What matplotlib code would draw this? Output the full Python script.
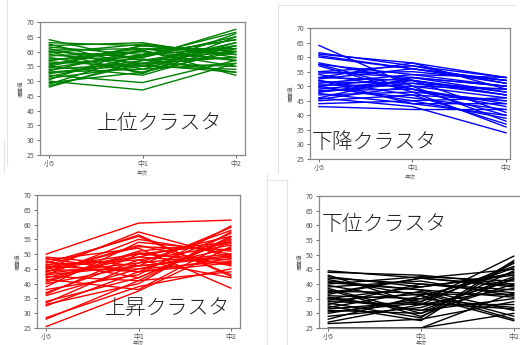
import matplotlib
matplotlib.use("Agg")
import matplotlib.pyplot as plt
from matplotlib.lines import Line2D

plt.rcParams['font.family'] = ['Noto Sans CJK JP', 'DejaVu Sans']

years = ["小5", "中1", "中2"]
ylabel = "偏差値"
xlabel = "年次"

# Upper cluster (green)
upper_s5 = [64, 63, 62.5, 62, 61.5, 61, 60.5, 60, 59.5, 59, 58.5, 58, 57.5, 57, 56.5, 56, 55.5, 55,
            54.5, 54, 53.5, 53, 52.5, 52, 51.5, 51, 50.5, 50, 49.5, 49, 48.5, 48, 60, 57, 55, 53]
upper_c1 = [57, 62, 55, 63, 59, 54, 61, 58, 62.5, 56, 60, 53, 58, 61, 55, 57.5, 62, 52,
            59, 56, 60.5, 54, 57, 49.5, 58.5, 55, 61, 47, 53, 59, 56, 57, 52.5, 60, 62, 55.5]
upper_c2 = [62, 60, 66, 58, 64, 56, 61, 67.5, 59, 63, 55, 60, 65, 57, 62, 53, 59, 61,
            64, 58, 52, 63, 60, 57, 66.5, 54, 59, 56, 62, 61, 55, 58, 65, 57, 60, 53]

# Declining cluster (blue)
down_s5 = [64, 61.5, 61, 60, 58, 57.5, 57, 55, 54.5, 54, 53, 52.5, 52, 51.5, 51, 50.5, 50, 49.5,
           49, 48.5, 48, 47.5, 47, 46, 45.5, 45, 44, 43, 53, 50, 48, 55, 57.5, 60.5, 52, 46]
down_c1 = [50, 57, 58, 56, 52, 54, 48, 53, 55, 49, 52, 56, 47, 51, 54, 50, 53, 46,
           52, 49, 51, 44, 48, 43, 50, 47, 45, 42, 58, 45, 52, 57, 49, 56, 44, 53]
down_c2 = [38, 53, 49, 52, 41, 50, 36, 48, 52, 43, 47, 51, 45, 49, 53, 46, 50, 42,
           48, 44, 47, 40, 45, 34, 49, 37, 46, 42, 53, 39, 47, 51, 40, 52, 44, 50]

# Rising cluster (red)
rise_s5 = [50, 49, 48, 47.5, 47, 46.5, 46, 45.5, 45, 44.5, 44, 43.5, 43, 42.5, 42, 41, 40, 39,
           38, 37, 36.5, 36, 34, 33.5, 33, 32.5, 28.5, 28, 25.5, 46, 44, 41.5, 48.5, 45, 43, 40.5]
rise_c1 = [60.5, 46, 52, 42, 56, 48, 44, 50, 57.5, 45, 53, 47, 55, 41, 49, 51, 46, 54,
           43, 48, 50, 45, 42, 47, 40, 44, 39, 41, 37.5, 56.5, 52.5, 38, 44, 49, 46, 50.5]
rise_c2 = [61.5, 59, 38.5, 55, 43, 53, 57, 48, 49, 52, 46, 58, 50, 56, 47, 54, 49.5, 51,
           59.5, 42, 53.5, 47.5, 55.5, 50, 57.5, 48.5, 45, 44, 52.5, 42.5, 51.5, 54.5, 47, 56, 49, 46.5]

# Lower cluster (black)
lower_s5 = [44.5, 44, 43, 42, 41.5, 41, 40, 39.5, 39, 38, 37.5, 37, 36, 35.5, 35, 34, 33.5, 33,
            32, 31.5, 31, 30, 29, 28, 27, 26.5, 25, 42.5, 38.5, 36.5, 34.5, 32.5, 30.5, 40.5, 24, 35]
lower_c1 = [42, 43, 33, 40, 36, 38, 42.5, 34, 41, 29, 37, 42, 35, 31, 39, 33, 28.5, 40,
            37.5, 34, 30, 35, 32, 36, 33, 28, 25, 39, 30, 42, 36.5, 27.5, 33.5, 38, 25, 31]
lower_c2 = [45, 40, 47, 38, 44, 31, 41, 49.5, 36, 42, 28, 39, 46, 35, 43, 33, 48, 37,
            29, 45.5, 40, 32, 41.5, 27.5, 38.5, 34, 30, 43.5, 44.5, 39.5, 36.5, 47.5, 31.5, 35.5, 37, 42.5]

W, H = 520, 345
fig = plt.figure(figsize=(W / 100, H / 100), dpi=100)
fig.patch.set_facecolor('white')

def px_axes(x0, y0, x1, y1):
    return fig.add_axes([x0 / W, 1 - y1 / H, (x1 - x0) / W, (y1 - y0) / H])

panels = [
    # (axes rect px, xlim, data, color, label, label pos px, xlabel pad)
    ((40, 22, 245, 155), (-0.1, 2.1), (upper_s5, upper_c1, upper_c2), 'green', "上位クラスタ", (97, 123), 2),
    ((310, 28, 510, 159), (-0.096, 2.043), (down_s5, down_c1, down_c2), 'blue', "下降クラスタ", (312, 142), 2),
    ((37, 195, 240, 328), (-0.1, 2.1), (rise_s5, rise_c1, rise_c2), 'red', "上昇クラスタ", (105, 308), 0),
    ((319, 196, 523, 328), (-0.1, 2.1), (lower_s5, lower_c1, lower_c2), 'black', "下位クラスタ", (322, 224), 0),
]

for rect, xl, (a, b, c), col, lab, (tx, ty), lp in panels:
    ax = px_axes(*rect)
    for v in zip(a, b, c):
        ax.plot(range(len(years)), v, color=col, lw=1.0)
    ax.set_xlim(*xl)
    ax.set_ylim(25, 70)
    ax.set_yticks(range(25, 71, 5))
    ax.set_xticks(range(len(years)))
    ax.set_xticklabels(years)
    ax.tick_params(labelsize=5, colors='#555555', length=2.5, width=0.6, pad=1.5)
    ax.tick_params(axis='x', pad=1.0)
    for s in ax.spines.values():
        s.set_color('#888888')
        s.set_linewidth(0.9)
    ax.set_ylabel(ylabel, fontsize=4, color='#555555', labelpad=2)
    ax.set_xlabel(xlabel, fontsize=4, color='#555555', labelpad=lp)
    fig.text(tx / W, 1 - ty / H, lab, fontsize=15, color='#222222',
             ha='left', va='center', fontweight='light')

# faint screenshot borders
border = '#e4e4e4'
for (x0, y0, x1, y1) in [(7, 0, 7, 165), (4, 140, 4, 173), (278, 5, 278, 173), (278, 5, 515, 5),
                          (267, 173, 267, 345), (287, 180, 287, 345), (267, 180, 287, 180)]:
    fig.add_artist(Line2D([x0 / W, x1 / W], [1 - y0 / H, 1 - y1 / H], color=border, lw=0.8))

fig.savefig('out.png', dpi=100)
